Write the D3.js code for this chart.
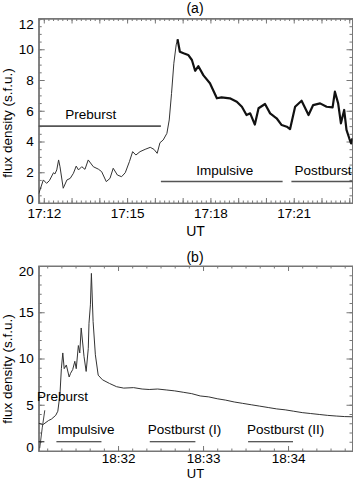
<!DOCTYPE html>
<html>
<head>
<meta charset="utf-8">
<title>flux density</title>
<script src="https://cdn.jsdelivr.net/npm/d3@7"></script>
<style>
body{margin:0;background:#fff;}
svg text{font-family:"Liberation Sans",Arial,Helvetica,sans-serif;fill:#000;}
</style>
</head>
<body>
<div id="chart"></div>
<script>
// panel (a) : seconds after 17:12:00 UT, flux in s.f.u.
var secA=[-11,-1,6,12,21,24,28,32,35,42,50,57,64,70,75,82,89,96,107,118,125,135,143,150,159,168,176,185,192,199,208,219,230,238,245,251,258,266,271,276,281,286,289,294,302,312,320,327,334,345,359,374,384,402,417,428,438,446,456,464,478,489,503,514,525,532,543,557,572,582,597,611,624,629,636,642,649,654,660,664,667];
var fluxA=[0.6,1.5,1.28,1.45,1.97,1.89,2.15,2.8,2.36,0.96,1.5,1.6,1.93,2.4,2.15,2.36,2.19,2.8,2.36,2.2,2.04,1.39,1.6,2.26,1.82,1.71,1.97,2.69,3.34,3.12,3.34,3.49,3.62,3.49,3.23,3.92,4.1,4.53,5.4,7.13,9.09,10.28,10.65,9.84,9.74,9.63,9.3,8.6,8.9,8.3,7.79,6.81,6.87,6.81,6.59,6.26,5.72,5.83,5.1,6.16,6.44,5.83,5.51,5.07,4.96,4.8,6.26,6.65,5.72,6.37,6.48,6.26,6.22,7.24,6.48,5.18,6.05,4.75,4.21,3.88,4.21];
var phaseNameA=["Preburst","Impulsive","Postburst"];
var phaseFromA=[-11,253,535];
var phaseToA=[253,516,667];
var phaseLevelA=[5,1.4,1.4];
var yTicksA=[0,2,4,6,8,10,12];

// panel (b) : seconds after 18:32:00 UT
var secB=[-56,-53,-49,-47,-44,-42.5,-41,-40,-39,-38,-36.5,-34.5,-33.5,-32,-30.5,-29.5,-28,-27,-26,-24,-22.5,-21,-20.5,-19.5,-18.8,-17.6,-16,-14,-11,-6,-1,4,11,17,22,28,34,40,46,52,58,64,70,76,82,88,94,100,106,112,118,124,130,136,142,148,154,160,165.5];
var fluxB=[3.0,2.85,3.3,3.45,3.85,4.3,6.1,8.9,10.6,8.9,9.3,8.0,8.4,8.8,9.7,8.9,11.4,10.6,13.3,10.2,8.6,11.1,13.8,15.8,19.2,14,10.4,8.2,7.7,7.3,6.95,6.8,6.85,6.7,6.65,6.7,6.6,6.5,6.35,6.2,5.95,5.85,5.65,5.5,5.3,5.15,5.0,4.85,4.7,4.55,4.45,4.3,4.15,4.05,3.95,3.85,3.78,3.72,3.7];
var spikeSecB=[-55.3,-53.5,-51.7];
var spikeFluxB=[0.3,2.5,4.4];
var phaseNameB=["Preburst","Impulsive","Postburst (I)","Postburst (II)"];
var phaseFromB=[-56,-43.5,22.4,91.8];
var phaseToB=[-52,-11.7,54.6,123.5];
var phaseLevelB=[1,1,1,1];
var yTicksB=[0,5,10,15,20];

var w=353,h=481;
var svg=d3.select('#chart').append('svg').attr('width',w).attr('height',h);

function toDate(base,s){ return new Date(base+s*1000); }
var baseA=Date.UTC(2000,0,1,17,12,0), baseB=Date.UTC(2000,0,1,18,32,0);

var panels=[
  {title:'(a)',base:baseA,sec:secA,flux:fluxA,from:-11,to:667,ymax:12,yTicks:yTicksA,yMinor:0.5,
   xEvery:3,top:18.5,bottom:203,titleY:13,utY:236,utSize:14,ylabY:123,pad:5,
   names:phaseNameA,pf:phaseFromA,pt:phaseToA,pl:phaseLevelA,
   lab:[[-9,-12],[3,-11],[1,-11]],lineColor:'#555',lineW:1.6},
  {title:'(b)',base:baseB,sec:secB,flux:fluxB,from:-56,to:165.5,ymax:20,yTicks:yTicksB,yMinor:1,
   xEvery:1,top:266,bottom:451,titleY:262,utY:478.2,utSize:13,ylabY:369,pad:2.5,
   names:phaseNameB,pf:phaseFromB,pt:phaseToB,pl:phaseLevelB,
   lab:[[21,-45],[7,-12.7],[12,-12.7],[15,-12.7]],lineColor:'#222',lineW:1.1}
];

var left=38.7,right=352.5;
var fs=13.5;

panels.forEach(function(p,k){
  var g=svg.append('g');
  var x=d3.scaleUtc().domain([toDate(p.base,p.from),toDate(p.base,p.to)]).range([left,right]);
  var y=d3.scaleLinear().domain([0,p.ymax]).range([p.bottom,p.top]);
  var clipId='clip'+k;
  g.append('clipPath').attr('id',clipId).append('rect')
   .attr('x',left).attr('y',p.top).attr('width',right-left).attr('height',p.bottom-p.top);

  // minor ticks
  var minorY=d3.range(0,p.ymax+0.001,p.yMinor);
  var secTicks=x.ticks(d3.utcSecond.every(10));
  function axisStyle(sel){
    sel.selectAll('path,line').attr('stroke','#777').attr('stroke-width',1);
    sel.selectAll('text').attr('font-size',fs).attr('font-family','"Liberation Sans",Arial,sans-serif').attr('fill','#000');
  }
  g.append('g').attr('transform','translate('+left+',0)')
   .call(d3.axisLeft(y).tickValues(minorY).tickSize(-3).tickFormat('')).call(axisStyle);
  g.append('g').attr('transform','translate('+right+',0)')
   .call(d3.axisRight(y).tickValues(minorY).tickSize(-3).tickFormat('')).call(axisStyle);
  g.append('g').attr('transform','translate(0,'+p.bottom+')')
   .call(d3.axisBottom(x).tickValues(secTicks).tickSize(-2.5).tickFormat('')).call(axisStyle);
  g.append('g').attr('transform','translate(0,'+p.top+')')
   .call(d3.axisTop(x).tickValues(secTicks).tickSize(-2.5).tickFormat('')).call(axisStyle);

  // major ticks + labels
  var yAx=g.append('g').attr('transform','translate('+left+',0)')
   .call(d3.axisLeft(y).tickValues(p.yTicks).tickSize(-6).tickSizeOuter(0).tickPadding(5).tickFormat(d3.format('d'))).call(axisStyle);
  yAx.selectAll('.tick text').filter(function(d){return d===0;}).attr('dy','0.02em');
  yAx.selectAll('.tick text').filter(function(d){return d===p.ymax;}).attr('dy','0.72em');
  g.append('g').attr('transform','translate('+right+',0)')
   .call(d3.axisRight(y).tickValues(p.yTicks).tickSize(-6).tickSizeOuter(0).tickFormat('')).call(axisStyle);
  g.append('g').attr('transform','translate(0,'+p.bottom+')')
   .call(d3.axisBottom(x).ticks(d3.utcMinute.every(1)).tickSize(-5).tickSizeOuter(0).tickPadding(p.pad)
     .tickFormat(function(d){ return d.getUTCMinutes()%p.xEvery===0 ? d3.utcFormat('%H:%M')(d) : ''; })).call(axisStyle);
  g.append('g').attr('transform','translate(0,'+p.top+')')
   .call(d3.axisTop(x).ticks(d3.utcMinute.every(1)).tickSize(-5).tickSizeOuter(0).tickFormat('')).call(axisStyle);

  // box
  g.append('rect').attr('x',left).attr('y',p.top).attr('width',right-left).attr('height',p.bottom-p.top)
   .attr('fill','none').attr('stroke','#777').attr('stroke-width',1);

  var pts=p.sec.map(function(s,i){return [s,p.flux[i]];});
  var line=d3.line().x(function(d){return x(toDate(p.base,d[0]));}).y(function(d){return y(d[1]);});
  var plot=g.append('g').attr('clip-path','url(#'+clipId+')');

  if(k===0){
    var im=d3.maxIndex(p.flux);
    plot.append('path').attr('d',line(pts.slice(0,im+1))).attr('fill','none')
      .attr('stroke','#333').attr('stroke-width',1);
    plot.append('path').attr('d',line(pts.slice(im))).attr('fill','none')
      .attr('stroke','#111').attr('stroke-width',2.2).attr('stroke-linejoin','round');
  } else {
    plot.append('path').attr('d',line(pts)).attr('fill','none')
      .attr('stroke','#333').attr('stroke-width',1);
    plot.append('path').attr('d',line(spikeSecB.map(function(s,i){return [s,spikeFluxB[i]];})))
      .attr('fill','none').attr('stroke','#444').attr('stroke-width',1);
  }

  // phase intervals
  p.names.forEach(function(n,i){
    var x0=x(toDate(p.base,p.pf[i])), x1=x(toDate(p.base,p.pt[i])), yy=y(p.pl[i]);
    g.append('line').attr('x1',x0).attr('x2',x1).attr('y1',yy).attr('y2',yy)
      .attr('stroke',p.lineColor).attr('stroke-width',p.lineW);
    g.append('text').attr('x',(x0+x1)/2+p.lab[i][0]).attr('y',yy+p.lab[i][1])
      .attr('dy','0.35em').attr('text-anchor','middle').attr('font-size',fs).text(n);
  });

  // titles
  g.append('text').attr('x',195).attr('y',p.titleY).attr('text-anchor','middle').attr('font-size',14).text(p.title);
  g.append('text').attr('x',195.5).attr('y',p.utY).attr('text-anchor','middle').attr('font-size',p.utSize).text('UT');
  g.append('text').attr('transform','translate(12,'+p.ylabY+') rotate(-90)')
    .attr('text-anchor','middle').attr('font-size',13.5).text('flux density (s.f.u.)');
});
</script>
</body>
</html>
